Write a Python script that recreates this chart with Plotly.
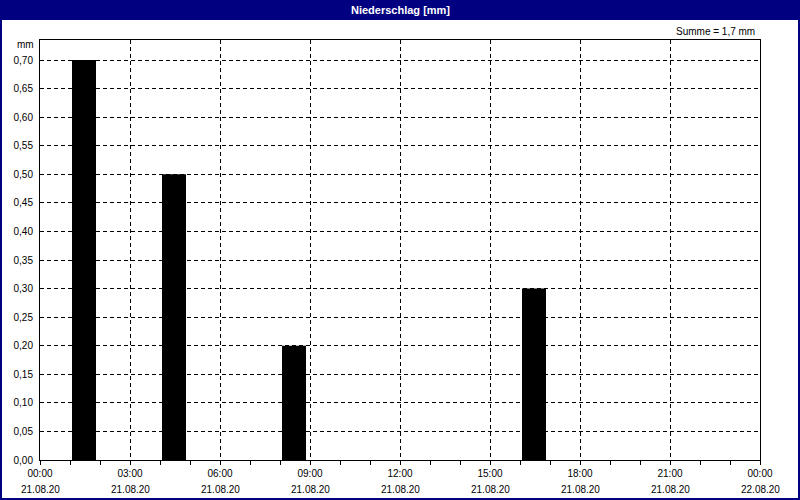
import plotly.graph_objects as go

# Data
period_start = ["2020-08-21 01:00", "2020-08-21 04:00", "2020-08-21 08:00", "2020-08-21 16:00"]
rain_mm = [0.70, 0.50, 0.20, 0.30]
tick_times = ["2020-08-21 00:00", "2020-08-21 03:00", "2020-08-21 06:00", "2020-08-21 09:00",
              "2020-08-21 12:00", "2020-08-21 15:00", "2020-08-21 18:00", "2020-08-21 21:00",
              "2020-08-22 00:00"]
tick_time_labels = ["00:00", "03:00", "06:00", "09:00", "12:00", "15:00", "18:00", "21:00", "00:00"]
tick_date_labels = ["21.08.20"] * 8 + ["22.08.20"]
title_text = "Niederschlag [mm]"
sum_text = "Summe = 1,7 mm"
unit_text = "mm"

W, H = 800, 500
L, R, T, B = 40, 40, 40, 40
PW, PH = W - L - R, H - T - B

def px(x):
    return (x - L) / PW

def py(y):
    return (H - B - y) / PH

NAVY = "#000080"
FONT = "Liberation Sans"

fig = go.Figure()
fig.add_trace(go.Bar(
    x=period_start, y=rain_mm,
    width=0.8 * 3600000, offset=4 * 60000,
    marker=dict(color="black", line=dict(width=0)),
    hoverinfo="x+y",
))

date_annotations = [
    dict(text=d, x=t, xref="x", yref="paper", y=py(489), xanchor="center", yanchor="middle",
         showarrow=False, font=dict(family=FONT, size=10, color="black"))
    for t, d in zip(tick_times, tick_date_labels)
]

fig.update_layout(
    width=W, height=H,
    margin=dict(l=L, r=R, t=T, b=B, autoexpand=False),
    paper_bgcolor="white", plot_bgcolor="white",
    showlegend=False,
    separators=",.",
    font=dict(family=FONT, size=10, color="black"),
    xaxis=dict(
        type="date", automargin=False,
        range=["2020-08-21 00:00", "2020-08-22 00:00"],
        tickmode="array", tickvals=tick_times, ticktext=tick_time_labels,
        showgrid=True, gridcolor="black", gridwidth=1, griddash="4px,3px",
        ticks="outside", ticklen=4, tickcolor="black",
        minor=dict(dtick=3600000, tick0="2020-08-21 00:00", ticks="outside", ticklen=4,
                   tickcolor="black", showgrid=False),
        showline=True, linecolor="black", linewidth=1, mirror=True,
        zeroline=False,
        tickfont=dict(family=FONT, size=10, color="black"),
        fixedrange=True,
    ),
    yaxis=dict(
        automargin=False,
        range=[0, 0.735],
        dtick=0.05, tick0=0,
        tickformat=".2f",
        showgrid=True, gridcolor="black", gridwidth=1, griddash="4px,3px",
        ticks="", ticklabelstandoff=4,
        showline=True, linecolor="black", linewidth=1, mirror=True,
        zeroline=False,
        tickfont=dict(family=FONT, size=10, color="black"),
        fixedrange=True,
    ),
    shapes=[
        dict(type="rect", xref="paper", yref="paper",
             x0=px(0), x1=px(W), y0=py(20), y1=py(0),
             fillcolor=NAVY, line=dict(width=0), layer="above"),
        dict(type="rect", xref="paper", yref="paper",
             x0=px(1), x1=px(W - 1), y0=py(H - 1), y1=py(1),
             fillcolor="rgba(0,0,0,0)", line=dict(color=NAVY, width=2), layer="above"),
    ],
    annotations=[
        dict(text="<b>" + title_text + "</b>", xref="paper", yref="paper",
             x=px(400), y=py(10), xanchor="center", yanchor="middle",
             showarrow=False, font=dict(family=FONT, size=11, color="white")),
        dict(text=sum_text, xref="paper", yref="paper",
             x=px(757), y=py(31), xanchor="right", yanchor="middle",
             showarrow=False, font=dict(family=FONT, size=10, color="black")),
        dict(text=unit_text, xref="paper", yref="paper",
             x=px(36), y=py(45), xanchor="right", yanchor="middle",
             showarrow=False, font=dict(family=FONT, size=10, color="black")),
    ] + date_annotations,
)

fig.write_html("out.html", config={"displayModeBar": False},
               post_script="document.body.style.margin='0';document.body.style.padding='0';")
